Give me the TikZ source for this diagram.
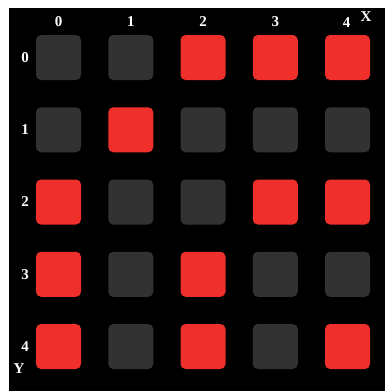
\documentclass[tikz,border=0pt]{standalone}
\usepackage{fontspec}
\setmainfont{Liberation Serif}
\definecolor{cellred}{HTML}{EE2F2B}
\definecolor{celldark}{HTML}{323232}
\begin{document}
\begin{tikzpicture}[x=1pt,y=-1pt,
  cell/.style={minimum size=45pt,inner sep=0pt,rounded corners=5pt,draw=none},
  on/.style={cell,fill=cellred},
  off/.style={cell,fill=celldark},
  lab/.style={text=white,font=\fontsize{15}{15}\selectfont\bfseries,inner sep=0pt}]
\useasboundingbox (0,0) rectangle (385,391);
\fill[white] (0,0) rectangle (385,391);
\fill[black] (9,8) rectangle (385,391);
\foreach \r/\a/\b/\c/\d/\e in {0/off/off/on/on/on,1/off/on/off/off/off,2/on/off/off/on/on,3/on/off/on/off/off,4/on/off/on/off/on}{
  \node[\a] (c\r0) at (58.5,{57.5+72.25*\r}) {};
  \node[\b] (c\r1) at (130.75,{57.5+72.25*\r}) {};
  \node[\c] (c\r2) at (203,{57.5+72.25*\r}) {};
  \node[\d] (c\r3) at (275.25,{57.5+72.25*\r}) {};
  \node[\e] (c\r4) at (347.5,{57.5+72.25*\r}) {};
}
\foreach \k in {0,1,2,3}{
  \node[lab] (col\k) at ({58.5+72.25*\k},22) {\k};
}
\node[lab] (col4) at (346.5,23) {4};
\foreach \k in {0,1,2,3,4}{
  \node[lab] (row\k) at (25,{57.5+72.25*\k}) {\k};
}
\node[lab] (xl) at (366,17) {X};
\node[lab] (yl) at (19,369) {Y};
\end{tikzpicture}
\end{document}
